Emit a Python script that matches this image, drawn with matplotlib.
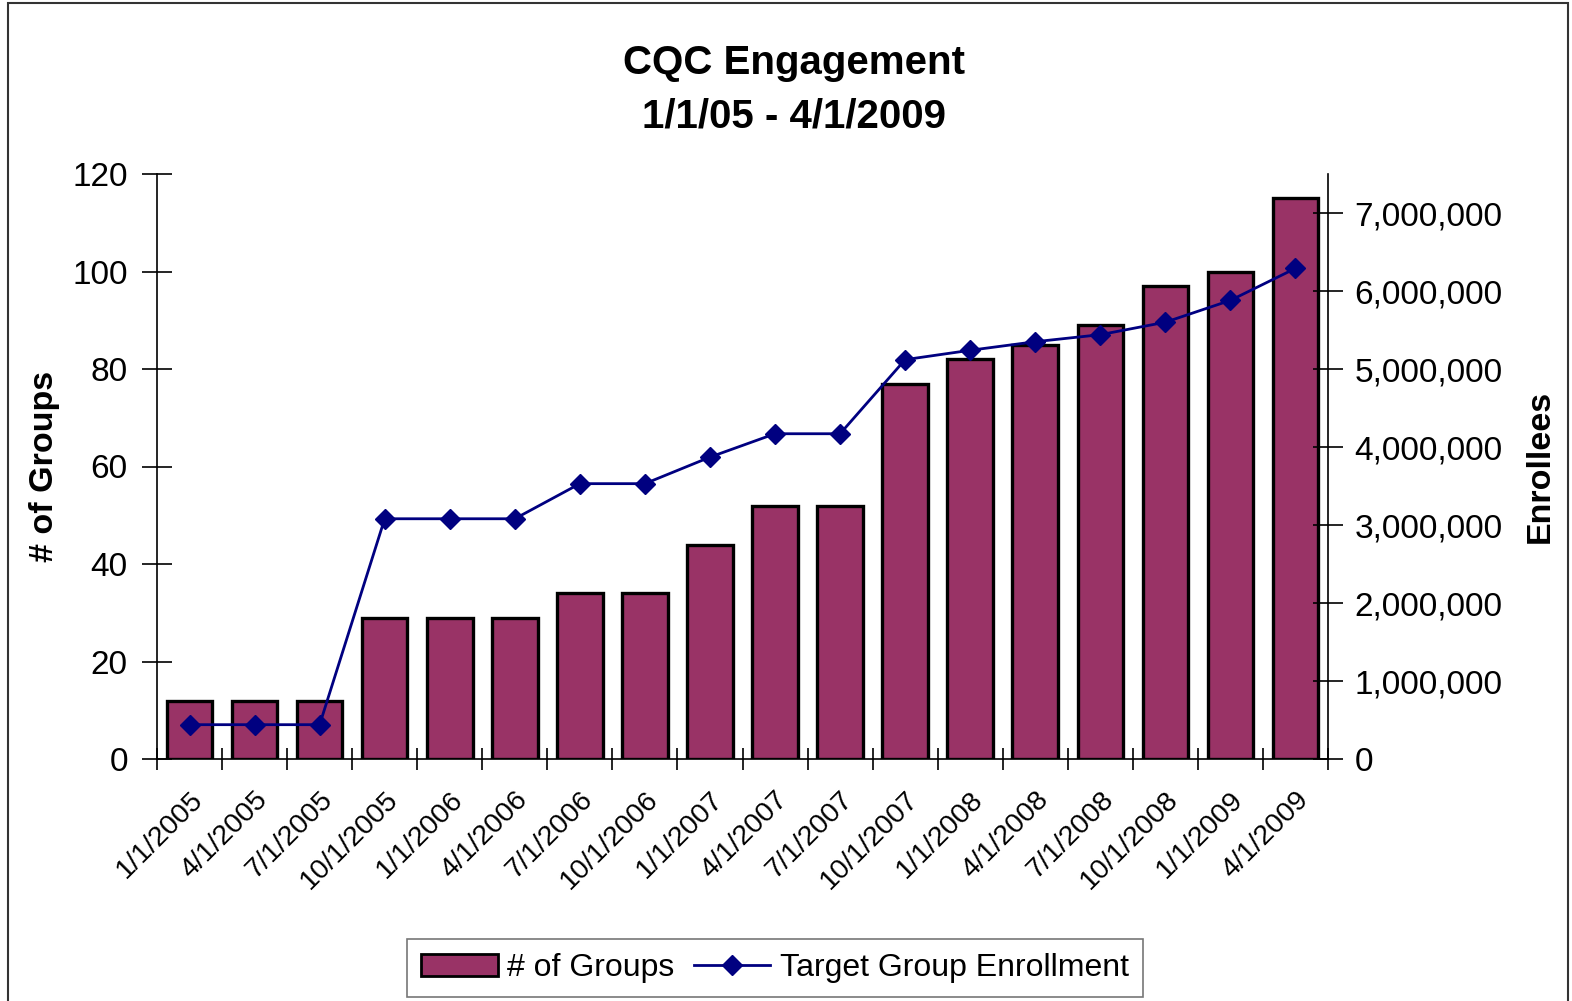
import matplotlib
matplotlib.use("Agg")
import matplotlib.pyplot as plt
from matplotlib.patches import Rectangle
from matplotlib.lines import Line2D
from matplotlib.ticker import FuncFormatter, MultipleLocator

plt.rcParams['font.family'] = ['Liberation Sans', 'DejaVu Sans']

dates = ["1/1/2005", "4/1/2005", "7/1/2005", "10/1/2005", "1/1/2006", "4/1/2006",
         "7/1/2006", "10/1/2006", "1/1/2007", "4/1/2007", "7/1/2007", "10/1/2007",
         "1/1/2008", "4/1/2008", "7/1/2008", "10/1/2008", "1/1/2009", "4/1/2009"]
groups = [12, 12, 12, 29, 29, 29, 34, 34, 44, 52, 52, 77, 82, 85, 89, 97, 100, 115]
enrollment = [440000, 440000, 440000, 3080000, 3080000, 3080000, 3530000, 3530000,
              3870000, 4170000, 4170000, 5120000, 5240000, 5350000, 5440000,
              5600000, 5880000, 6290000]

bar_color = "#993366"
line_color = "#000080"

fig = plt.figure(figsize=(15.72, 10.01), dpi=100)
ax = fig.add_axes([157/1572, 1 - 759/1001, (1328-157)/1572, (759-174)/1001])
ax2 = ax.twinx()

x = list(range(len(dates)))
ax.bar(x, groups, width=0.7, color=bar_color, edgecolor="black", linewidth=2.4, zorder=2)
ax2.plot(x, enrollment, color=line_color, linewidth=2, marker="D", markersize=10,
         markerfacecolor=line_color, markeredgecolor=line_color, zorder=3)

ax.set_xlim(-0.5, len(dates) - 0.5)
ax.set_ylim(0, 120)
ax2.set_ylim(0, 7500000)
ax.yaxis.set_major_locator(MultipleLocator(20))
ax2.yaxis.set_major_locator(MultipleLocator(1000000))
ax2.yaxis.set_major_formatter(FuncFormatter(lambda v, p: f"{int(v):,}"))

for a in (ax, ax2):
    a.spines['top'].set_visible(False)
    a.set_facecolor("none")
ax.spines['right'].set_visible(False)
ax2.spines['left'].set_visible(False)
ax2.spines['bottom'].set_visible(False)
for s in ('left', 'bottom'):
    ax.spines[s].set_linewidth(1.2)
ax2.spines['right'].set_linewidth(1.2)

# category ticks sit between bars; labels sit under bar centres
ax.set_xticks([i - 0.5 for i in range(len(dates) + 1)])
ax.set_xticklabels([])
ax.set_xticks(x, minor=True)
ax.set_xticklabels(dates, minor=True, rotation=45, ha="right", va="top",
                   rotation_mode="anchor", fontsize=20.5)
ax.tick_params(axis="x", which="major", direction="inout", length=16, width=1.2)
ax.tick_params(axis="x", which="minor", length=0, pad=20)
ax.tick_params(axis="y", direction="inout", length=22, width=1.2, labelsize=24, pad=10)
ax2.tick_params(axis="y", direction="inout", length=22, width=1.2, labelsize=24, pad=8)

ax.set_ylabel("# of Groups", fontsize=24.5, fontweight="bold", labelpad=9)
ax2.set_ylabel("Enrollees", fontsize=24.5, fontweight="bold", labelpad=16)

fig.text(0.505, 1 - 63/1001, "CQC Engagement", ha="center", va="center",
         fontsize=29, fontweight="bold")
fig.text(0.505, 1 - 117/1001, "1/1/05 - 4/1/2009", ha="center", va="center",
         fontsize=29, fontweight="bold")

handles = [Rectangle((0, 0), 1, 1, facecolor=bar_color, edgecolor="black", linewidth=2),
           Line2D([], [], color=line_color, linewidth=2, marker="D", markersize=10,
                  markerfacecolor=line_color)]
leg = fig.legend(handles, ["# of Groups", "Target Group Enrollment"], loc="center",
                 bbox_to_anchor=(775/1572, 1 - 968/1001), ncol=2, frameon=True,
                 fancybox=False, edgecolor="#555555",
                 handlelength=2.4, handletextpad=0.3, columnspacing=0.6,
                 borderpad=0.45, prop={'size': 23})
leg.get_frame().set_linewidth(1.2)

fig.patches.append(Rectangle((8/1572, -0.02), (1568-8)/1572, 1.02 - 3/1001,
                             transform=fig.transFigure, fill=False,
                             edgecolor="#333333", linewidth=1.5))

fig.savefig("out.png", dpi=100, facecolor="white")
